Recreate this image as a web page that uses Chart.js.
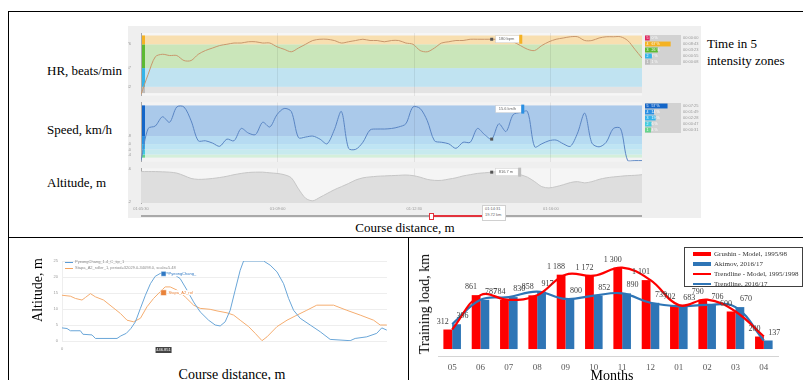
<!DOCTYPE html>
<html>
<head>
<meta charset="utf-8">
<script src="https://cdn.jsdelivr.net/npm/chart.js@4.4.1/dist/chart.umd.min.js"></script>
<style>
html,body{margin:0;padding:0;background:#fff;}
#page{position:relative;width:803px;height:380px;overflow:hidden;font-family:'Liberation Serif','Times New Roman',serif;color:#000;}
.rule{position:absolute;background:#000;}
.lbl{position:absolute;font-size:13px;line-height:1;white-space:nowrap;}
.rot{position:absolute;font-size:14px;line-height:1;white-space:nowrap;transform:translate(-50%,-50%) rotate(-90deg);}
canvas{position:absolute;display:block;}
.tiny{position:absolute;font-family:'Liberation Sans',Arial,sans-serif;font-size:4px;line-height:1;color:#8a8a8a;white-space:nowrap;}
#panel{position:absolute;left:128px;top:26px;width:573px;height:192px;background:#efefef;}
.leg{position:absolute;left:684px;top:247px;width:119px;height:40px;border:1px solid #404040;box-sizing:border-box;background:#fff;}
.leg div{position:absolute;left:8px;font-size:7px;line-height:1;white-space:nowrap;color:#333;}
.leg span{display:inline-block;width:18px;vertical-align:middle;margin-right:3px;}
</style>
</head>
<body>
<div id="page">
  <div class="rule" style="left:8px;top:11px;width:795px;height:1px"></div>
  <div class="rule" style="left:8px;top:11px;width:1px;height:369px"></div>
  <div class="rule" style="left:8px;top:237px;width:795px;height:1px"></div>
  <div class="rule" style="left:408px;top:237px;width:1px;height:143px"></div>

  <div class="lbl" style="left:47px;top:64px">HR, beats/min</div>
  <div class="lbl" style="left:47px;top:123px">Speed, km/h</div>
  <div class="lbl" style="left:47px;top:176px">Altitude, m</div>
  <div class="lbl" style="left:707px;top:37px">Time in 5</div>
  <div class="lbl" style="left:707px;top:54px">intensity zones</div>
  <div class="lbl" style="left:405px;top:221px;transform:translateX(-50%)">Course distance, m</div>

  <div id="panel"></div>
  <canvas id="hr" width="519" height="72" style="left:128px;top:28px"></canvas>
  <canvas id="speed" width="519" height="68" style="left:128px;top:98px"></canvas>
  <canvas id="alt" width="519" height="49" style="left:128px;top:164px"></canvas>
  <canvas id="hrZones" width="36" height="30" style="left:645px;top:35px;background:#d2d2d2"></canvas>
  <canvas id="spZones" width="36" height="30" style="left:645px;top:103px;background:#d2d2d2"></canvas>
  <div id="hrTimes"></div>
  <div id="spTimes"></div>

  <div style="position:absolute;left:141px;top:215px;width:501px;height:2px;background:#a9a9a9"></div>
  <div style="position:absolute;left:431px;top:215px;width:51px;height:2px;background:#e2323c"></div>
  <div style="position:absolute;left:429px;top:213px;width:3px;height:5px;background:#fff;border:1px solid #e2323c"></div>
  <div style="position:absolute;left:482px;top:205px;width:22px;height:14px;background:#fff;border:1px solid #d0d0d0"></div>
  <div class="tiny" style="left:485px;top:207px;color:#666">01:14:31</div>
  <div class="tiny" style="left:485px;top:213px;color:#666">19.72 km</div>

  <canvas id="course" width="397" height="115" style="left:10px;top:240px"></canvas>
  <div class="rot" style="left:38px;top:290px">Altitude, m</div>
  <div class="lbl" style="left:232px;top:368px;font-size:14px;transform:translateX(-50%)">Course distance, m</div>
  <div style="position:absolute;left:65px;top:262px;width:8px;height:1px;background:#5b9bd5"></div>
  <div class="tiny" style="left:75px;top:260px">PyeongChang_1.4_C_tip_1</div>
  <div style="position:absolute;left:65px;top:268px;width:8px;height:1px;background:#f4a460"></div>
  <div class="tiny" style="left:75px;top:266px">Stapa_A2_roller_1, period=32029.0-34098.0, scale=5.48</div>

  <canvas id="load" width="393" height="140" style="left:410px;top:240px"></canvas>
  <div class="rot" style="left:425px;top:304px">Training load, km</div>
  <div class="lbl" style="left:612px;top:369px;font-size:14px;transform:translateX(-50%)">Months</div>
  <div class="leg">
    <div style="top:3px"><span style="height:4px;background:#ff0000"></span>Grushin - Model, 1995/98</div>
    <div style="top:13px"><span style="height:4px;background:#2e75b6"></span>Akimov, 2016/17</div>
    <div style="top:23px"><span style="height:2px;background:#ff0000"></span>Trendline - Model, 1995/1998</div>
    <div style="top:33px"><span style="height:2px;background:#2e75b6"></span>Trendline, 2016/17</div>
  </div>
</div>

<script>
// ---- Session samples (one sample every TIME_STEP seconds) ----
const TIME_STEP = 11;
const hrBpm = [136,152,166,168,167,167,163,163,168,171,173,175,176,177,177,178,178,177,177,174,
  172,170,173,176,179,180,180,179,177,178,179,180,179,179,178,179,179,177,176,171,
  170,173,177,178,179,179,180,180,180,180,180,180,178,175,172,171,175,178,180,181,
  182,182,179,179,181,182,182,182,179,172,165];
const speedKmh = [0,23.3,25.1,31.8,27.8,38.9,38.9,28.9,14.4,14.4,12.7,10.4,15.6,14.4,23.3,20,18.9,27.8,24.4,33.3,
  37.8,35.6,16.7,17.1,17.8,15.6,12.2,22.2,35.6,8.9,8.2,13.3,22.2,22.9,22.9,23.3,24.4,26.7,38.9,37.8,
  28.9,14.4,13.3,12.2,8.9,13.3,13.3,23.3,18.9,15.6,26.7,21.1,33.3,34.9,35.6,10,12.2,14.4,14.9,12.2,
  10.4,20,34.4,12.7,10,13.3,23.3,23.3,0,0,0];
const altitudeM = [817.8,817.8,817.8,817.3,816.7,815,810.4,805.2,803.5,804,805.2,806.9,809.2,812.1,814.4,816.1,816.7,816.7,815.5,814.4,
  812.1,806.3,786.2,769,764.3,770.7,777.6,784.5,790.2,796,802.3,806.3,808,809.2,809.8,810.4,810.9,811.5,810.4,807.5,
  803.5,801.7,801.7,804,806.3,809.8,812.1,814.4,815.5,816.7,817.8,817.3,816.1,812.1,807.5,799.4,790.2,787.9,790.2,793.7,
  797.7,799.4,797.1,799.4,803.5,806.3,808,809.2,810.4,810.9,812.1];
const timeTickSec = [0, 210, 420, 630];
const timeTickLabels = ['01:05:30', '01:09:00', '01:12:30', '01:16:00'];
const cursorIndex = 49;

// Intensity zones (zone 1 .. zone 5)
const hrZoneEdges = [137, 142, 157, 176, 183];
const hrZonePct = [1, 7, 26, 67, 0];
const speedZoneEdges = [2.2, 4.4, 8, 12, 17.8, 40];
const speedZonePct = [4, 6, 19, 14, 57];
const hrTickVals = [142, 157, 176];
const speedTickVals = [4.4, 8, 12, 17.8];
const altTickVals = [763.2, 823.6];

// ---- Course profiles ----
const pyeongDist = [0,22,37,81,92,132,147,242,259,283,303,323,345,367,389,410,432,462,491,520,550,579,608,645,674,696,718,740,762,784,799,887,916,946,975,997,1019,1048,1092,1136,1180,1268,1290,1341,1385,1407,1429];
const pyeongAlt  = [4.1,3.9,3.2,3.2,2.1,1.9,0.8,0.8,1.6,2.4,3.9,6,10.2,14.3,17.9,20.2,21.1,21.3,20.9,19.5,15.9,12.2,9.1,6.5,5,4.7,6,9.6,15.9,22.1,25,25,23.7,21.6,17.9,13.3,9.6,7.1,5,2.9,0.5,0.1,0.8,1.3,2.4,4.1,3.4];
const stapaDist = [0,37,59,88,103,125,147,183,220,257,286,315,345,374,403,432,454,476,506,542,579,608,652,682,726,755,784,821,850,880,902,946,990,1034,1077,1121,1195,1253,1312,1371,1400,1429];
const stapaAlt  = [14.3,14,13.3,12.8,13.6,14.8,13.8,12.8,10.7,8.6,6.5,6,7.1,10.7,13.3,15.4,16.9,16.9,15.9,13.8,11.2,10.2,9.9,9.4,8.8,8.1,6.5,4.5,2.4,0.1,1.3,4.5,6.5,8.1,9.6,11.2,11.2,9.6,8.1,6.5,5,5];
const markerDist = 446.851;
const markerPyeong = 21;
const markerStapa = 15.1;

// ---- Monthly training load ----
const months = ['05','06','07','08','09','10','11','12','01','02','03','04'];
const modelLoad = [312,861,784,858,1188,1172,1300,1101,702,790,600,200];
const akimovLoad = [396,787,830,917,800,852,890,739,683,706,670,137];

Chart.defaults.animation = false;
Chart.defaults.responsive = false;
Chart.defaults.devicePixelRatio = 1;
Chart.defaults.plugins.legend.display = false;
Chart.defaults.plugins.tooltip.enabled = false;
Chart.defaults.font.family = "'Liberation Sans', Arial, sans-serif";

const timeSec = hrBpm.map((_, i) => i * TIME_STEP);
const pairs = (xs, ys) => xs.map((x, i) => ({x, y: ys[i]}));

// Coloured intensity bands behind a series, plus the zone stripe on the left edge
const zonePlugin = {
  id: 'zones',
  beforeDraw(chart, args, o) {
    if (!o.edges) return;
    const {ctx, chartArea: a, scales: {y}} = chart;
    ctx.save();
    ctx.fillStyle = o.bg;
    ctx.fillRect(a.left, a.top, a.right - a.left, a.bottom - a.top);
    for (let i = 0; i < o.edges.length - 1; i++) {
      const y1 = y.getPixelForValue(o.edges[i + 1]);
      const y2 = y.getPixelForValue(o.edges[i]);
      ctx.fillStyle = o.fills[i];
      ctx.fillRect(a.left, y1, a.right - a.left, y2 - y1);
      ctx.fillStyle = o.stripes[i];
      ctx.fillRect(a.left, y1, 4, y2 - y1);
    }
    ctx.restore();
  }
};

// Hover marker with a small value box
const cursorPlugin = {
  id: 'cursorTag',
  afterDatasetsDraw(chart, args, o) {
    if (o.index == null) return;
    const {ctx} = chart;
    const pt = chart.getDatasetMeta(0).data[o.index];
    const v = chart.data.datasets[0].data[o.index].y;
    ctx.save();
    ctx.fillStyle = '#555';
    ctx.fillRect(pt.x - 1.5, pt.y - 1.5, 3, 3);
    ctx.font = "4px 'Liberation Sans', Arial";
    const txt = o.format(v);
    const w = ctx.measureText(txt).width + 8;
    const bx = pt.x + 4, by = pt.y + (o.dy || 0) - 3.5;
    ctx.fillStyle = '#fff';
    ctx.fillRect(bx, by, w, 7);
    ctx.strokeStyle = '#cfcfcf';
    ctx.lineWidth = 0.5;
    ctx.strokeRect(bx, by, w, 7);
    ctx.fillStyle = o.tag;
    ctx.fillRect(bx + w, by - 1, 3, 9);
    ctx.fillStyle = '#666';
    ctx.textBaseline = 'middle';
    ctx.fillText(txt, bx + 3, by + 3.6);
    ctx.restore();
  }
};

function timeXScale(showLabels) {
  return {
    type: 'linear', min: 0, max: 770,
    afterBuildTicks: s => { s.ticks = timeTickSec.map(v => ({value: v})); },
    ticks: {display: showLabels, font: {size: 4}, color: '#999', padding: 3,
            callback: (v, i) => timeTickLabels[i]},
    grid: {color: 'rgba(0,0,0,0.07)', drawTicks: false},
    border: {display: false},
    afterFit: s => { s.height = showLabels ? 10 : 0; }
  };
}
function sideYScale(min, max, ticks, digits) {
  return {
    min, max,
    afterBuildTicks: s => { s.ticks = ticks.map(v => ({value: v})); },
    ticks: {font: {size: 4}, color: '#999', padding: 2, callback: v => digits ? v.toFixed(digits) : String(v)},
    grid: {display: false},
    border: {display: true, color: '#a8a8a8', dash: [1, 1]},
    afterFit: s => { s.width = 13; }
  };
}

new Chart(document.getElementById('hr'), {
  type: 'line',
  data: {datasets: [{data: pairs(timeSec, hrBpm), borderColor: '#c8976c', borderWidth: 1, pointRadius: 0, tension: 0.3}]},
  options: {
    layout: {padding: {top: 5, bottom: 2, right: 5, left: 0}},
    plugins: {
      zones: {edges: hrZoneEdges, bg: '#f6f6f6',
              fills: ['#e3e3e3', '#c0e3f1', '#cae6ba', '#f8dfb0'],
              stripes: ['#bdbdbd', '#35b4e8', '#5db932', '#f4b223']},
      cursorTag: {index: cursorIndex, tag: '#f4b223', format: v => Math.round(v) + ' bpm'}
    },
    scales: {x: timeXScale(false), y: sideYScale(135, 185, hrTickVals, 0)}
  },
  plugins: [zonePlugin, cursorPlugin]
});

new Chart(document.getElementById('speed'), {
  type: 'line',
  data: {datasets: [{data: pairs(timeSec, speedKmh), borderColor: '#5a85c3', borderWidth: 1, pointRadius: 0, tension: 0.3}]},
  options: {
    layout: {padding: {top: 2, bottom: 2, right: 5, left: 0}},
    plugins: {
      zones: {edges: speedZoneEdges, bg: '#f3f3f3',
              fills: ['#d4efda', '#c7eaee', '#bfe5f4', '#b6dbf2', '#aac9ea'],
              stripes: ['#66d48c', '#43cbe0', '#33b3ea', '#2a90e3', '#1466c8']},
      cursorTag: {index: cursorIndex, tag: '#2a90e3', format: v => v.toFixed(1) + ' km/h', dy: -30}
    },
    scales: {x: timeXScale(false), y: sideYScale(-0.7, 42.2, speedTickVals, 1)}
  },
  plugins: [zonePlugin, cursorPlugin]
});

new Chart(document.getElementById('alt'), {
  type: 'line',
  data: {datasets: [{data: pairs(timeSec, altitudeM), borderColor: '#c6c6c6', backgroundColor: '#dedede',
                     fill: 'start', borderWidth: 1, pointRadius: 0, tension: 0.3}]},
  options: {
    layout: {padding: {top: 3, bottom: 0, right: 5, left: 0}},
    plugins: {cursorTag: {index: cursorIndex, tag: '#bdbdbd', format: v => v.toFixed(1) + ' m'}},
    scales: {x: timeXScale(true), y: sideYScale(760.3, 823.6, altTickVals, 1)}
  },
  plugins: [{id: 'altBg', beforeDraw(c) { const a = c.chartArea; c.ctx.fillStyle = '#f5f5f5'; c.ctx.fillRect(a.left, a.top, a.right - a.left, a.bottom - a.top); }}, cursorPlugin]
});

// Share of time in each zone (zone 5 listed first)
const fmtTime = s => { s = Math.round(s); const h = Math.floor(s / 3600), m = Math.floor(s / 60) % 60, ss = s % 60;
  return [h, m, ss].map(n => String(n).padStart(2, '0')).join(':'); };
function zoneShare(id, pct, colors, timesId, top) {
  const rows = pct.slice().reverse();
  new Chart(document.getElementById(id), {
    type: 'bar',
    data: {labels: ['5', '4', '3', '2', '1'],
           datasets: [{data: rows, base: -15, backgroundColor: colors, categoryPercentage: 1, barPercentage: 0.82}]},
    options: {
      indexAxis: 'y',
      layout: {padding: 0},
      scales: {x: {display: false, min: -15, max: 100}, y: {display: false}}
    },
    plugins: [{id: 'zoneText', afterDatasetsDraw(c) {
      const ctx = c.ctx; ctx.save();
      ctx.font = "3.6px 'Liberation Sans', Arial"; ctx.fillStyle = '#fff'; ctx.textBaseline = 'middle';
      c.getDatasetMeta(0).data.forEach((b, i) => ctx.fillText(c.data.labels[i] + '   ' + rows[i] + ' %', 1.5, b.y + 0.3));
      ctx.restore();
    }}]
  });
  const total = hrBpm.length * TIME_STEP;
  const holder = document.getElementById(timesId);
  rows.forEach((p, i) => {
    const d = document.createElement('div');
    d.className = 'tiny';
    d.style.left = '683px';
    d.style.top = (top + 1 + i * 6) + 'px';
    d.style.color = '#999';
    d.textContent = fmtTime(total * p / 100);
    holder.appendChild(d);
  });
}
zoneShare('hrZones', hrZonePct, ['#e0245e', '#f4b223', '#5db932', '#35b4e8', '#bdbdbd'], 'hrTimes', 35);
zoneShare('spZones', speedZonePct, ['#1466c8', '#2a90e3', '#33b3ea', '#43cbe0', '#66d48c'], 'spTimes', 103);

// ---- Course altitude comparison ----
new Chart(document.getElementById('course'), {
  type: 'line',
  data: {datasets: [
    {data: [{x: markerDist, y: markerPyeong}], type: 'scatter', pointStyle: 'rect', pointRadius: 3.5,
     backgroundColor: '#2f78c4', borderColor: '#fff', borderWidth: 0.5},
    {data: [{x: markerDist, y: markerStapa}], type: 'scatter', pointStyle: 'rect', pointRadius: 4,
     backgroundColor: '#e8823a', borderColor: '#fff', borderWidth: 0.5},
    {data: pairs(pyeongDist, pyeongAlt), borderColor: '#6aa6d8', borderWidth: 1, pointRadius: 0, tension: 0},
    {data: pairs(stapaDist, stapaAlt), borderColor: '#f5ad70', borderWidth: 1, pointRadius: 0, tension: 0}
  ]},
  options: {
    layout: {padding: {top: 21, right: 20, left: 0, bottom: 0}},
    scales: {
      x: {type: 'linear', min: 0, max: 1430,
          afterBuildTicks: s => { s.ticks = s.ticks.filter(t => t.value % 200 === 0); },
          ticks: {stepSize: 200, font: {size: 4}, color: '#999', padding: 5},
          grid: {color: '#eeeeee', drawTicks: false}, border: {display: false},
          afterFit: s => { s.height = 14; }},
      y: {min: 0, max: 25, ticks: {stepSize: 5, font: {size: 4}, color: '#999', padding: 4},
          grid: {color: '#eeeeee', drawTicks: false}, border: {display: false},
          afterFit: s => { s.width = 52; }}
    }
  },
  plugins: [{id: 'courseTags', afterDatasetsDraw(c) {
    const ctx = c.ctx; ctx.save();
    ctx.font = "4px 'Liberation Sans', Arial"; ctx.textBaseline = 'middle';
    const p0 = c.getDatasetMeta(0).data[0], p1 = c.getDatasetMeta(1).data[0];
    ctx.fillStyle = '#fff'; ctx.fillRect(p0.x + 5, p0.y - 2.5, 30, 5);
    ctx.fillStyle = '#2f78c4'; ctx.fillText('PyeongChang_', p0.x + 5, p0.y);
    ctx.fillStyle = '#fff'; ctx.fillRect(p1.x + 5, p1.y - 2.5, 26, 5);
    ctx.fillStyle = '#e8823a'; ctx.fillText('Stapa_A2_rol', p1.x + 5, p1.y);
    const bx = c.scales.x.getPixelForValue(markerDist);
    const by = c.chartArea.bottom + 6;
    ctx.fillStyle = '#444'; ctx.fillRect(bx - 8, by, 16, 6);
    ctx.fillStyle = '#fff'; ctx.textAlign = 'center'; ctx.fillText(markerDist.toFixed(3), bx, by + 3.2);
    ctx.restore();
  }}]
});

// ---- Monthly training load with trendlines ----
const fmtKm = v => v >= 1000 ? Math.floor(v / 1000) + ' ' + String(v % 1000).padStart(3, '0') : String(v);
new Chart(document.getElementById('load'), {
  data: {
    labels: months,
    datasets: [
      {type: 'line', data: modelLoad, borderColor: '#ff0000', borderWidth: 2.2, pointRadius: 0, tension: 0.4, order: 1},
      {type: 'line', data: akimovLoad, borderColor: '#2e75b6', borderWidth: 2.2, pointRadius: 0, tension: 0.4, order: 1},
      {type: 'bar', data: modelLoad, backgroundColor: '#ff0000', categoryPercentage: 0.62, barPercentage: 1, order: 2},
      {type: 'bar', data: akimovLoad, backgroundColor: '#2e75b6', categoryPercentage: 0.62, barPercentage: 1, order: 2}
    ]
  },
  options: {
    layout: {padding: {top: 12, right: 25, left: 28, bottom: 0}},
    scales: {
      x: {type: 'category', offset: true, grid: {display: false, drawTicks: false},
          border: {display: true, color: '#d4d4d4'},
          ticks: {font: {family: "'Liberation Serif', 'Times New Roman', serif", size: 9}, color: '#595959', padding: 6},
          afterFit: s => { s.height = 24; }},
      y: {display: false, min: -111, max: 1550}
    }
  },
  plugins: [{id: 'barValues', afterDatasetsDraw(c) {
    const ctx = c.ctx; ctx.save();
    ctx.font = "8px 'Liberation Serif', 'Times New Roman', serif";
    ctx.fillStyle = '#404040'; ctx.textAlign = 'center'; ctx.textBaseline = 'bottom';
    c.getDatasetMeta(2).data.forEach((b, i) => ctx.fillText(fmtKm(modelLoad[i]), b.x - 5, b.y - 4));
    c.getDatasetMeta(3).data.forEach((b, i) => ctx.fillText(fmtKm(akimovLoad[i]), b.x + 6, b.y - 4));
    ctx.restore();
  }}]
});
</script>
</body>
</html>
